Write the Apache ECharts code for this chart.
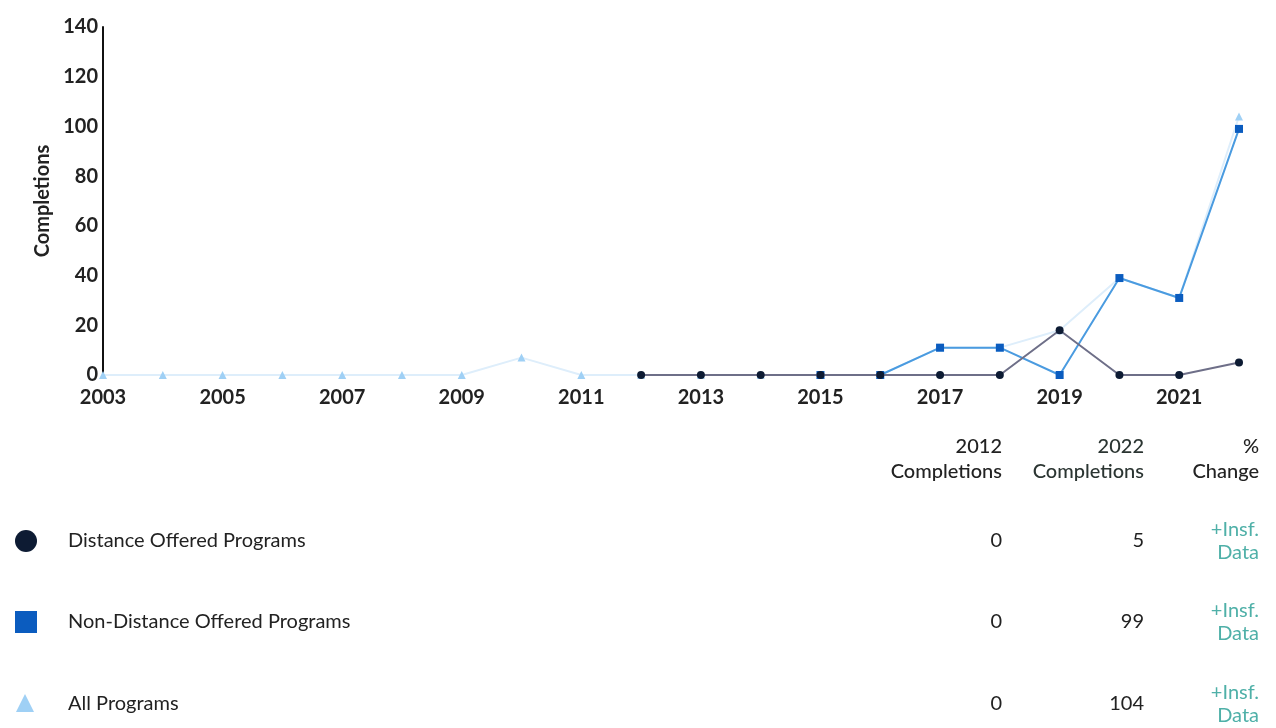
<!DOCTYPE html>
<html>
<head>
<meta charset="utf-8">
<script src="https://cdn.jsdelivr.net/npm/echarts@6/dist/echarts.min.js"></script>
<style>
  html, body { margin: 0; padding: 0; background: #fff; }
  #chart { width: 1276px; height: 728px; }
</style>
</head>
<body>
<div id="chart"></div>
<script>
var years = ['2003','2004','2005','2006','2007','2008','2009','2010','2011','2012',
             '2013','2014','2015','2016','2017','2018','2019','2020','2021','2022'];
var distance    = [null,null,null,null,null,null,null,null,null,0, 0,0,0,0,0,0,18,0,0,5];
var nonDistance = [null,null,null,null,null,null,null,null,null,null, null,null,0,0,11,11,0,39,31,99];
var allPrograms = [0,0,0,0,0,0,0,7,0,0, 0,0,0,0,11,11,18,39,31,104];

var seriesNames = ['Distance Offered Programs', 'Non-Distance Offered Programs', 'All Programs'];
var completions2012 = ['0', '0', '0'];
var completions2022 = ['5', '99', '104'];
var pctChange = ['+Insf.\nData', '+Insf.\nData', '+Insf.\nData'];

var FONT = 'Lato';
var chart = echarts.init(document.getElementById('chart'));

// table under the chart
var rowY = [541, 622, 704];
function txt(x, y, text, opts) {
  opts = opts || {};
  return {
    type: 'text', x: x, y: y,
    style: {
      text: text,
      font: (opts.weight || 'normal') + ' ' + (opts.size || 20) + 'px ' + FONT,
      fill: opts.color || '#222',
      align: opts.align || 'left',
      verticalAlign: 'middle',
      lineHeight: opts.lh || 25
    }
  };
}
var graphic = [
  txt(1002, 459, '2012\nCompletions', { align: 'right', weight: 500 }),
  txt(1144, 459, '2022\nCompletions', { align: 'right', weight: 500, color: '#2b3532' }),
  txt(1259, 459, '%\nChange', { align: 'right', weight: 500 })
];
var icons = [
  { type: 'circle', shape: { cx: 26, cy: rowY[0], r: 11 }, style: { fill: '#0d1b33' } },
  { type: 'rect', shape: { x: 15, y: rowY[1] - 11, width: 22, height: 22 }, style: { fill: '#0b5cbf' } },
  { type: 'polygon', shape: { points: [[25, rowY[2] - 10], [16, rowY[2] + 8], [34, rowY[2] + 8]] }, style: { fill: '#9fd0f5' } }
];
seriesNames.forEach(function (name, i) {
  graphic.push(icons[i]);
  graphic.push(txt(68, rowY[i], name));
  graphic.push(txt(1002, rowY[i], completions2012[i], { align: 'right' }));
  graphic.push(txt(1144, rowY[i], completions2022[i], { align: 'right' }));
  graphic.push(txt(1259, rowY[i], pctChange[i], { align: 'right', color: '#4fb0a8', lh: 23 }));
});

var option = {
  animation: false,
  textStyle: { fontFamily: FONT },
  grid: { left: 103, right: 37, top: 27, bottom: 353, containLabel: false },
  xAxis: {
    type: 'category',
    data: years,
    boundaryGap: false,
    axisLine: { show: false },
    axisTick: { show: false },
    axisLabel: { interval: 1, color: '#222', fontSize: 20, fontWeight: 'bold', margin: 13 }
  },
  yAxis: {
    type: 'value',
    min: 0,
    max: 140,
    interval: 20,
    name: 'Completions',
    nameLocation: 'middle',
    nameGap: 50,
    nameTextStyle: { color: '#222', fontSize: 20, fontWeight: 'bold' },
    axisLine: { show: true, lineStyle: { color: '#111', width: 2 } },
    axisTick: { show: false },
    splitLine: { show: false },
    axisLabel: { color: '#222', fontSize: 20, fontWeight: 'bold', margin: 5 }
  },
  series: [
    {
      name: seriesNames[2],
      type: 'line',
      data: allPrograms,
      symbol: 'triangle',
      symbolSize: 8,
      itemStyle: { color: '#9fd0f5' },
      lineStyle: { color: '#deeefb', width: 2 },
      z: 1
    },
    {
      name: seriesNames[1],
      type: 'line',
      data: nonDistance,
      symbol: 'rect',
      symbolSize: 8,
      itemStyle: { color: '#0b5cbf' },
      lineStyle: { color: '#4a9be0', width: 2 },
      z: 2
    },
    {
      name: seriesNames[0],
      type: 'line',
      data: distance,
      symbol: 'circle',
      symbolSize: 8,
      itemStyle: { color: '#0d1b33' },
      lineStyle: { color: '#6e6f88', width: 2 },
      z: 3
    }
  ],
  graphic: graphic
};
chart.setOption(option);
</script>
</body>
</html>
